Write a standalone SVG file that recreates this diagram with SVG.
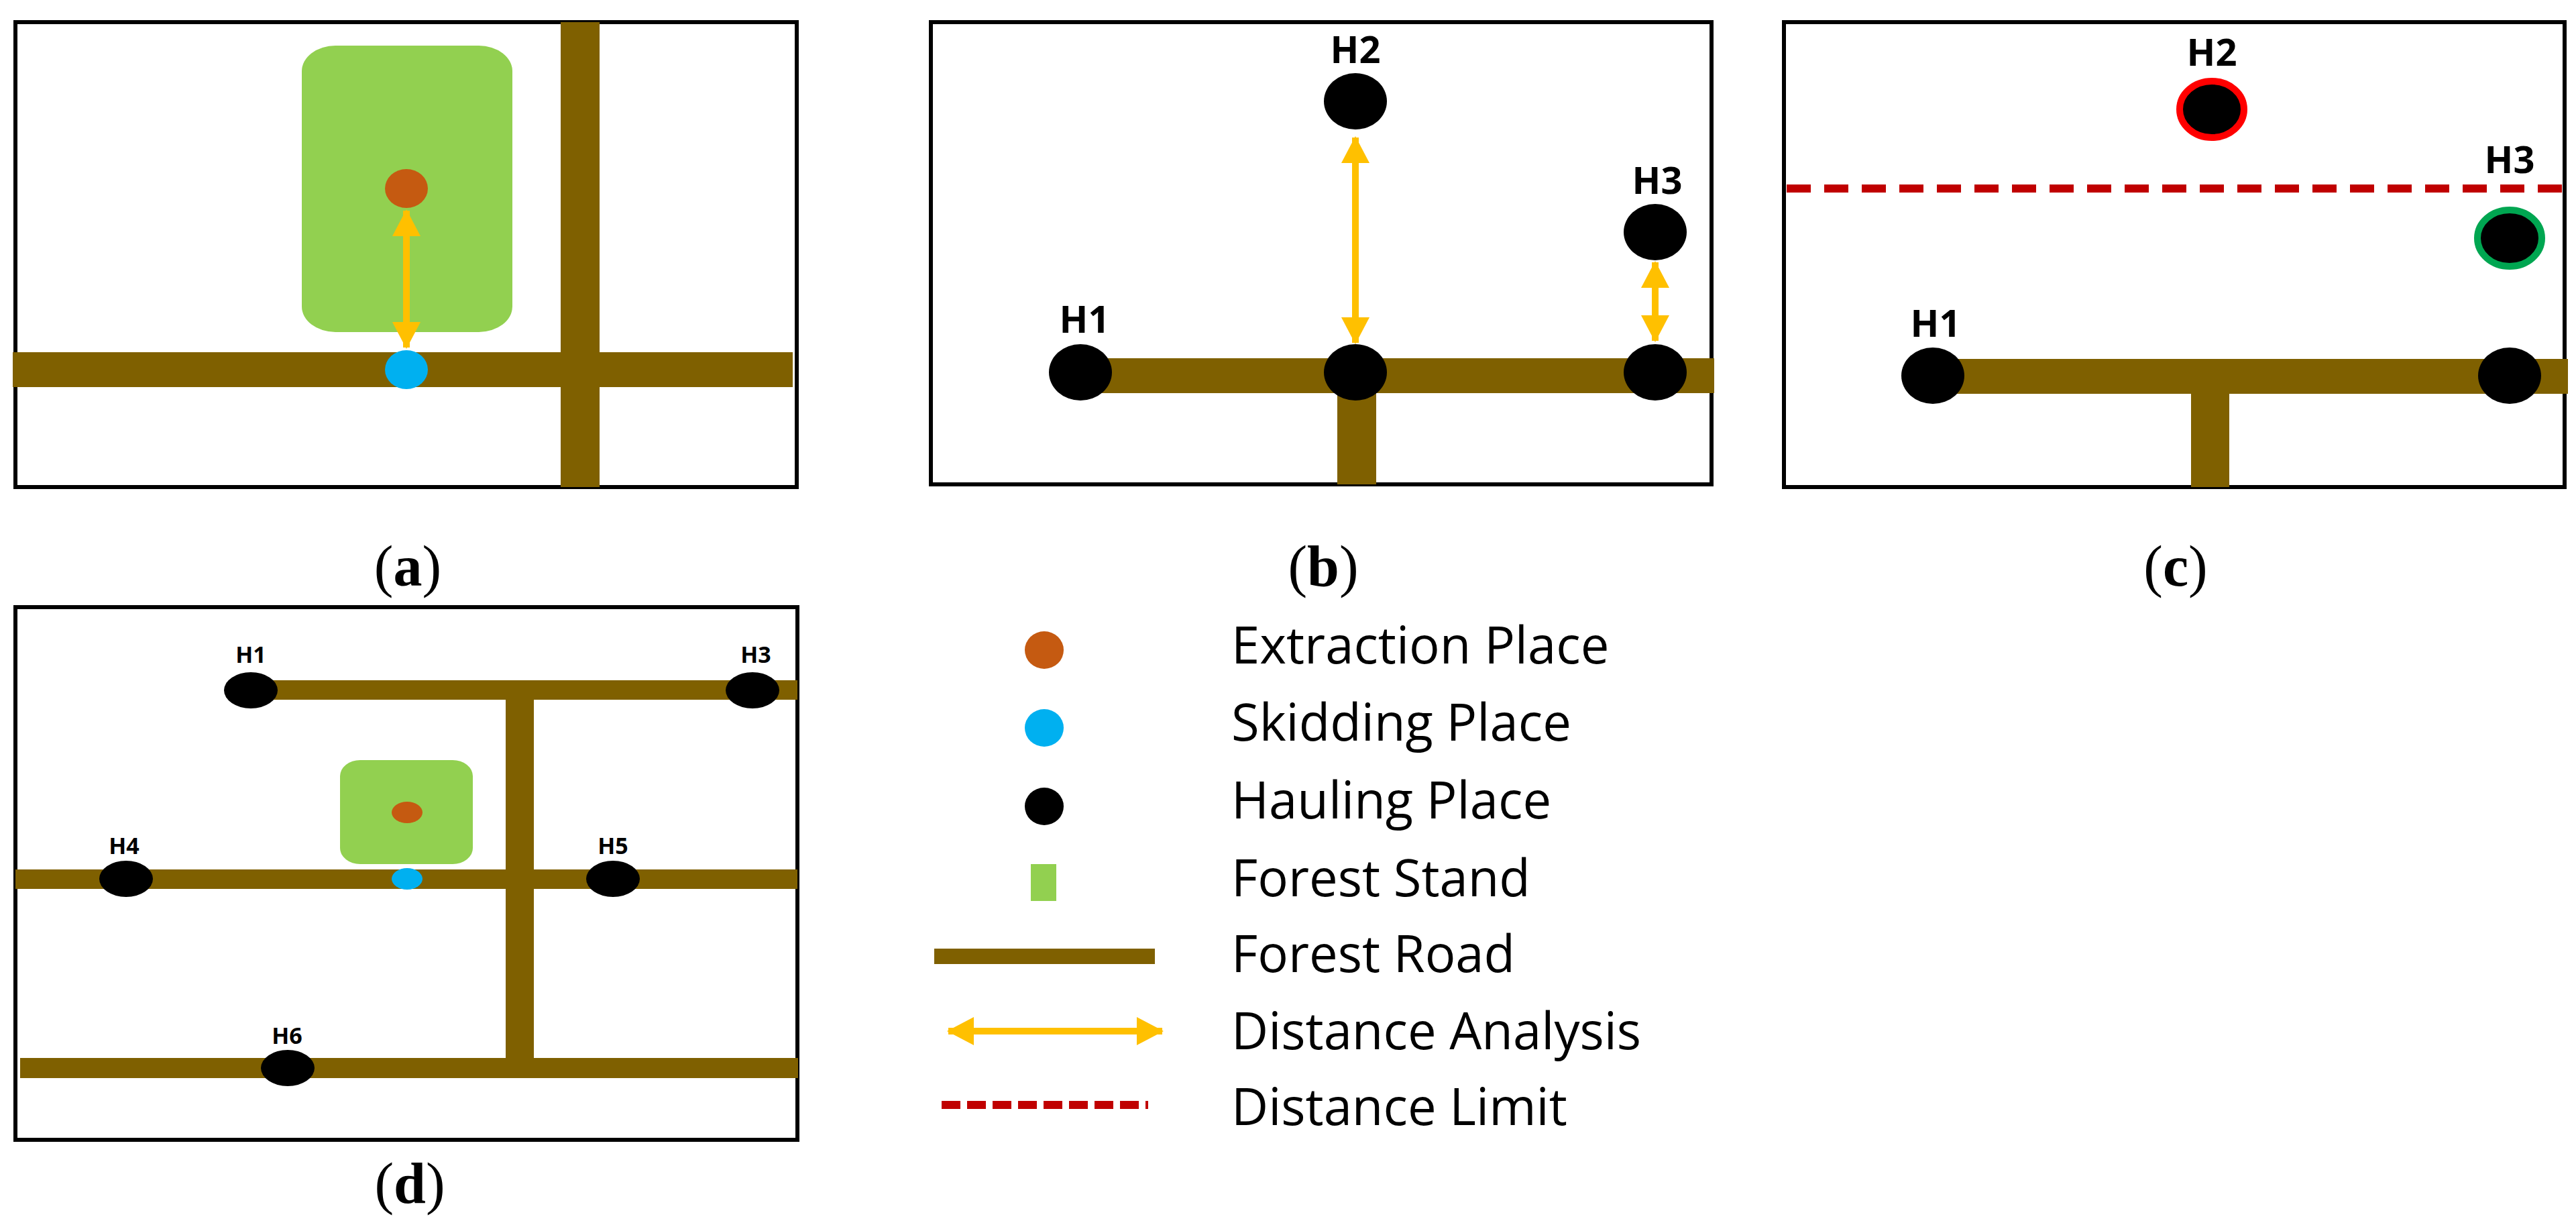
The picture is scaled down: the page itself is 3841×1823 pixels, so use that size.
<svg xmlns="http://www.w3.org/2000/svg" width="3841" height="1823" viewBox="0 0 3841 1823">
<defs>
<style>
.frame{fill:none;stroke:#000;stroke-width:6}
.road{fill:#7F6000}
.stand{fill:#92D050}
.ext{fill:#C55A11}
.skid{fill:#00B0F0}
.haul{fill:#000}
.arr{stroke:#FFC000;stroke-width:10;fill:none;marker-start:url(#ah);marker-end:url(#ah)}
.lim{stroke:#C00000;fill:none}
.lbl{font-family:"Open Sans","Liberation Sans",sans-serif;font-weight:bold;fill:#000;text-anchor:middle}
.cap{font-family:"Liberation Serif",serif;font-size:86px;fill:#000;text-anchor:middle}
.leg{font-family:"Open Sans","Liberation Sans",sans-serif;font-size:76px;fill:#000}
</style>
<marker id="ah" markerUnits="userSpaceOnUse" viewBox="0 0 40 42" refX="38" refY="21" markerWidth="40" markerHeight="42" orient="auto-start-reverse"><path d="M0,0 L40,21 L0,42 Z" fill="#FFC000"/></marker>
</defs>
<rect width="3841" height="1823" fill="#fff"/>

<g id="panel-a">
<rect class="frame" x="23" y="33" width="1165" height="693"/>
<rect class="stand" x="450" y="68" width="314" height="427" rx="50" ry="38"/>
<rect class="road" x="19" y="525" width="1163" height="52"/>
<rect class="road" x="836" y="33" width="58" height="693"/>
<ellipse class="ext" cx="606" cy="281" rx="32" ry="29"/>
<ellipse class="skid" cx="606" cy="551" rx="32" ry="29"/>
<text class="cap" x="608" y="873">(<tspan font-weight="bold">a</tspan>)</text>
</g>

<g id="panel-b">
<rect class="frame" x="1388" y="33" width="1164" height="689"/>
<rect class="road" x="1611" y="534" width="945" height="52"/>
<rect class="road" x="1994" y="586" width="58" height="136"/>
<ellipse class="haul" cx="1611" cy="555" rx="47" ry="42"/>
<ellipse class="haul" cx="2021" cy="555" rx="47" ry="42"/>
<ellipse class="haul" cx="2468" cy="555" rx="47" ry="42"/>
<ellipse class="haul" cx="2021" cy="151" rx="47" ry="42"/>
<ellipse class="haul" cx="2468" cy="346" rx="47" ry="42"/>
<text class="lbl" x="2021" y="94" font-size="56">H2</text>
<text class="lbl" x="2471" y="289" font-size="56">H3</text>
<text class="lbl" x="1617" y="496" font-size="56">H1</text>
<text class="cap" x="1973" y="873">(<tspan font-weight="bold">b</tspan>)</text>
</g>

<g id="panel-c">
<rect class="frame" x="2660" y="33" width="1164" height="693"/>
<rect class="road" x="2882" y="535" width="947" height="52"/>
<rect class="road" x="3267" y="587" width="57" height="139"/>
<ellipse class="haul" cx="2882" cy="560" rx="47" ry="42"/>
<ellipse class="haul" cx="3742" cy="560" rx="47" ry="42"/>
<ellipse class="haul" cx="3298" cy="163" rx="48" ry="42" stroke="#FF0000" stroke-width="10"/>
<ellipse class="haul" cx="3742" cy="355" rx="48" ry="42" stroke="#00A651" stroke-width="10"/>
<text class="lbl" x="3298" y="98" font-size="56">H2</text>
<text class="lbl" x="3742" y="258" font-size="56">H3</text>
<text class="lbl" x="2886" y="502" font-size="56">H1</text>
<text class="cap" x="3244" y="873">(<tspan font-weight="bold">c</tspan>)</text>
</g>

<g id="panel-d">
<rect class="frame" x="23" y="905" width="1166" height="794" stroke-width="4"/>
<rect class="road" x="374" y="1014" width="815" height="29"/>
<rect class="road" x="23" y="1296" width="1166" height="29"/>
<rect class="road" x="30" y="1577" width="1160" height="30"/>
<rect class="road" x="754" y="1014" width="42" height="593"/>
<rect class="stand" x="507" y="1133" width="198" height="155" rx="30" ry="24"/>
<ellipse class="ext" cx="607" cy="1211" rx="23" ry="16"/>
<ellipse class="skid" cx="607" cy="1310" rx="23" ry="16"/>
<ellipse class="haul" cx="374" cy="1029" rx="40" ry="27"/>
<ellipse class="haul" cx="1122" cy="1029" rx="40" ry="27"/>
<ellipse class="haul" cx="188" cy="1310" rx="40" ry="27"/>
<ellipse class="haul" cx="914" cy="1310" rx="40" ry="27"/>
<ellipse class="haul" cx="429" cy="1592" rx="40" ry="27"/>
<text class="lbl" x="374" y="988" font-size="34">H1</text>
<text class="lbl" x="1127" y="988" font-size="34">H3</text>
<text class="lbl" x="185" y="1273" font-size="34">H4</text>
<text class="lbl" x="914" y="1273" font-size="34">H5</text>
<text class="lbl" x="428" y="1556" font-size="34">H6</text>
<text class="cap" x="611" y="1793">(<tspan font-weight="bold">d</tspan>)</text>
</g>

<g id="legend">
<ellipse class="ext" cx="1557" cy="969" rx="29" ry="28"/>
<ellipse class="skid" cx="1557" cy="1085" rx="29" ry="28"/>
<ellipse class="haul" cx="1557" cy="1202" rx="29" ry="28"/>
<rect class="stand" x="1537" y="1288" width="38" height="55"/>
<rect class="road" x="1393" y="1414" width="329" height="23"/>
<line class="arr" x1="1414" y1="1537" x2="1733" y2="1537"/>
<line class="lim" x1="1404" y1="1647" x2="1712" y2="1647" stroke-width="12" stroke-dasharray="28 10"/>
<text class="leg" x="1836" y="989">Extraction Place</text>
<text class="leg" x="1836" y="1104">Skidding Place</text>
<text class="leg" x="1836" y="1220">Hauling Place</text>
<text class="leg" x="1836" y="1336">Forest Stand</text>
<text class="leg" x="1836" y="1449">Forest Road</text>
<text class="leg" x="1836" y="1564">Distance Analysis</text>
<text class="leg" x="1836" y="1677">Distance Limit</text>
</g>

<g id="connectors">
<line class="arr" x1="606" y1="314" x2="606" y2="518"/>
<line class="arr" x1="2021" y1="205" x2="2021" y2="511"/>
<line class="arr" x1="2468" y1="391" x2="2468" y2="508"/>
<line class="lim" x1="2664" y1="281" x2="3829" y2="281" stroke-width="12" stroke-dasharray="36 20"/>
</g>
</svg>
